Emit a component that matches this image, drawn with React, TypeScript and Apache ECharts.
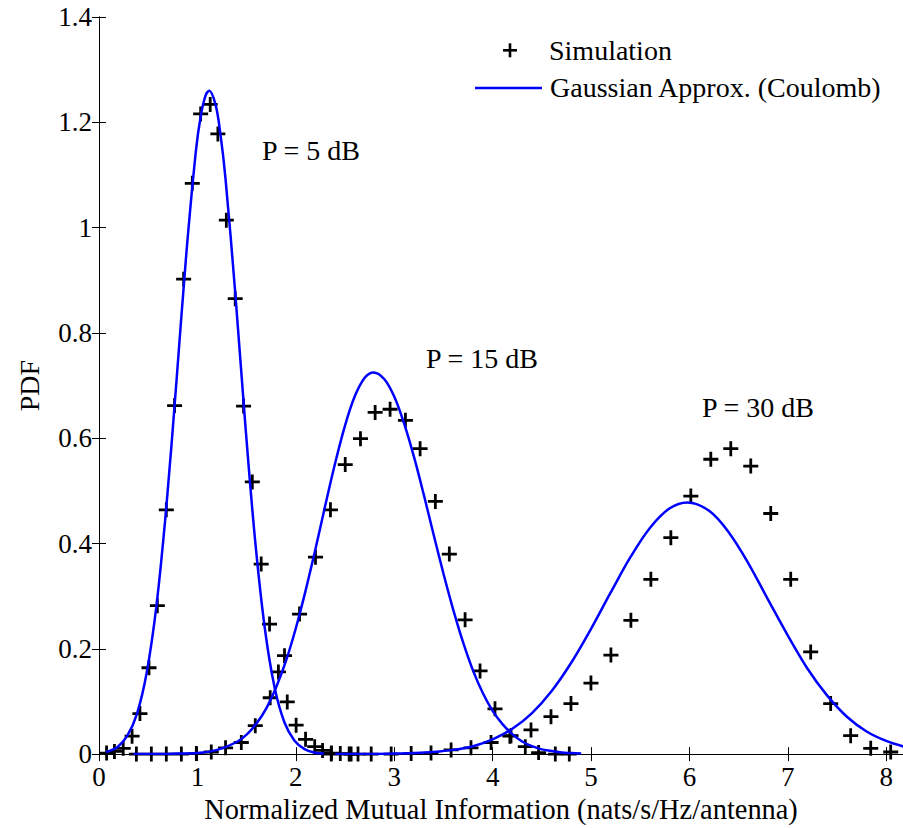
import React, { useEffect, useRef } from "react";
import * as echarts from "echarts";

// Simulation points
const sim5dB: [number, number][] = [
  [0.077, 0.002], [0.157, 0.005], [0.246, 0.011], [0.336, 0.034], [0.416, 0.077],
  [0.508, 0.164], [0.593, 0.282], [0.684, 0.464], [0.768, 0.662], [0.86, 0.902],
  [0.948, 1.084], [1.033, 1.216], [1.13, 1.234], [1.208, 1.178], [1.294, 1.014],
  [1.384, 0.865], [1.469, 0.661], [1.558, 0.517], [1.648, 0.361], [1.733, 0.247],
  [1.823, 0.156], [1.913, 0.099], [2.003, 0.055], [2.099, 0.028], [2.192, 0.014],
  [2.272, 0.007], [2.362, 0.002], [2.452, 0.001], [2.542, 0], [2.632, 0],
];
const sim15dB: [number, number][] = [
  [0.38, 0], [0.532, 0], [0.684, 0], [0.837, 0], [0.989, 0.001], [1.141, 0.004],
  [1.286, 0.012], [1.446, 0.022], [1.588, 0.054], [1.74, 0.107], [1.885, 0.187],
  [2.038, 0.266], [2.2, 0.374], [2.352, 0.464], [2.502, 0.55], [2.657, 0.599],
  [2.806, 0.649], [2.958, 0.655], [3.114, 0.634], [3.263, 0.58], [3.418, 0.48],
  [3.56, 0.38], [3.72, 0.255], [3.872, 0.158], [4.024, 0.086], [4.175, 0.034],
  [4.332, 0.014], [4.467, 0.003], [4.637, 0], [4.779, 0],
];
const sim30dB: [number, number][] = [
  [2.36, 0], [2.562, 0], [2.766, 0], [2.969, 0], [3.172, 0.001], [3.374, 0.002],
  [3.578, 0.008], [3.78, 0.012], [3.984, 0.022], [4.187, 0.035], [4.39, 0.046],
  [4.593, 0.071], [4.796, 0.096], [4.999, 0.135], [5.202, 0.188], [5.405, 0.254],
  [5.608, 0.332], [5.811, 0.411], [6.014, 0.49], [6.217, 0.56], [6.42, 0.58],
  [6.623, 0.547], [6.826, 0.457], [7.029, 0.332], [7.232, 0.194], [7.435, 0.096],
  [7.638, 0.035], [7.842, 0.011], [8.045, 0.004],
];

// Gaussian approximation curves
const gauss5dB: [number, number][] = [
  [0.07, 0.004], [0.185, 0.013], [0.285, 0.034], [0.385, 0.076], [0.485, 0.155],
  [0.585, 0.284], [0.685, 0.471], [0.785, 0.703], [0.885, 0.945], [0.985, 1.146],
  [1.035, 1.213], [1.085, 1.252], [1.12, 1.26], [1.185, 1.233], [1.235, 1.176],
  [1.285, 1.094], [1.385, 0.875], [1.485, 0.63], [1.585, 0.409], [1.685, 0.239],
  [1.785, 0.126], [1.885, 0.06], [1.985, 0.026], [2.085, 0.01], [2.185, 0.003],
  [2.285, 0.001],
];
const gauss15dB: [number, number][] = [
  [0.35, 0], [0.6, 0], [0.8, 0.001], [1.0, 0.002], [1.2, 0.008], [1.4, 0.023],
  [1.5, 0.037], [1.6, 0.058], [1.7, 0.087], [1.8, 0.127], [1.9, 0.177], [2.0, 0.239],
  [2.1, 0.311], [2.2, 0.39], [2.3, 0.473], [2.4, 0.553], [2.5, 0.624], [2.6, 0.68],
  [2.7, 0.715], [2.79, 0.725], [2.9, 0.712], [3.0, 0.679], [3.1, 0.628], [3.2, 0.565],
  [3.3, 0.493], [3.4, 0.417], [3.5, 0.343], [3.6, 0.274], [3.7, 0.212], [3.8, 0.159],
  [3.9, 0.116], [4.0, 0.082], [4.1, 0.057], [4.2, 0.038], [4.3, 0.024], [4.4, 0.015],
  [4.5, 0.009], [4.6, 0.006], [4.7, 0.003], [4.8, 0.002], [4.9, 0.001],
];
const gauss30dB: [number, number][] = [
  [2.4, 0], [2.6, 0], [3.0, 0.001], [3.2, 0.002], [3.4, 0.004], [3.6, 0.008],
  [3.8, 0.015], [4.0, 0.028], [4.2, 0.048], [4.4, 0.078], [4.6, 0.12], [4.8, 0.174],
  [5.0, 0.238], [5.2, 0.307], [5.4, 0.374], [5.6, 0.43], [5.8, 0.467], [5.98, 0.478],
  [6.2, 0.462], [6.4, 0.421], [6.6, 0.362], [6.8, 0.293], [7.0, 0.225], [7.2, 0.162],
  [7.4, 0.111], [7.6, 0.071], [7.8, 0.043], [8.0, 0.025], [8.2, 0.013],
];

const legendLabels = ["Simulation", "Gaussian Approx. (Coulomb)"];
const annotations = ["P = 5 dB", "P = 15 dB", "P = 30 dB"];
const xTitle = "Normalized Mutual Information (nats/s/Hz/antenna)";
const yTitle = "PDF";

const FONT = "Liberation Serif";
const PLUS =
  "path://M5.7,0 L8.3,0 L8.3,5.7 L14,5.7 L14,8.3 L8.3,8.3 L8.3,14 L5.7,14 L5.7,8.3 L0,8.3 L0,5.7 L5.7,5.7 Z";

export default function App() {
  const ref = useRef<HTMLDivElement>(null);
  useEffect(() => {
    document.body.style.margin = "0";
    if (!ref.current) return;
    const chart = echarts.init(ref.current, null, { renderer: "svg" });
    const axisCommon = {
      axisLine: { show: true, lineStyle: { color: "#000", width: 1 } },
      axisTick: { show: true, inside: true, length: 7, lineStyle: { color: "#000", width: 1 } },
      splitLine: { show: false },
    };
    const simSeries = (data: [number, number][]) => ({
      type: "scatter",
      data,
      symbol: PLUS,
      symbolSize: 15,
      itemStyle: { color: "#000", borderWidth: 0, opacity: 1 },
      z: 3,
      silent: true,
    });
    const lineSeries = (data: [number, number][]) => ({
      type: "line",
      data,
      showSymbol: false,
      smooth: 0.35,
      lineStyle: { color: "#0000ff", width: 2.5 },
      z: 4,
      silent: true,
    });
    const textEl = (text: string, x: number, y: number) => ({
      type: "text",
      x,
      y,
      style: {
        text,
        fill: "#000",
        fontSize: 28,
        fontFamily: FONT,
        verticalAlign: "middle",
      },
      z: 10,
    });
    chart.setOption({
      animation: false,
      backgroundColor: "#fff",
      textStyle: { fontFamily: FONT },
      grid: { left: 99, right: -1, top: 17, bottom: 66, containLabel: false },
      xAxis: [
        {
          type: "value",
          min: 0,
          max: 8.17,
          interval: 1,
          position: "bottom",
          ...axisCommon,
          axisLabel: {
            color: "#000",
            fontSize: 27,
            fontFamily: FONT,
            margin: 9,
            showMaxLabel: false,
          },
          name: xTitle,
          nameLocation: "middle",
          nameGap: 34,
          nameTextStyle: { color: "#000", fontSize: 28.4, fontFamily: FONT },
        },
        {
          type: "value",
          min: 0,
          max: 8.17,
          interval: 1,
          position: "top",
          ...axisCommon,
          axisLabel: { show: false },
        },
      ],
      yAxis: [
        {
          type: "value",
          min: 0,
          max: 1.4,
          interval: 0.2,
          position: "left",
          ...axisCommon,
          axisLabel: { color: "#000", fontSize: 27, fontFamily: FONT, margin: 7 },
          name: yTitle,
          nameLocation: "middle",
          nameGap: 56,
          nameRotate: 90,
          nameTextStyle: { color: "#000", fontSize: 28, fontFamily: FONT },
        },
        {
          type: "value",
          min: 0,
          max: 1.4,
          interval: 0.2,
          position: "right",
          ...axisCommon,
          axisLabel: { show: false },
        },
      ],
      series: [
        simSeries(sim5dB),
        simSeries(sim15dB),
        simSeries(sim30dB),
        lineSeries(gauss5dB),
        lineSeries(gauss15dB),
        lineSeries(gauss30dB),
      ],
      graphic: [
        {
          type: "rect",
          shape: { x: 503, y: 49, width: 14, height: 2.6 },
          style: { fill: "#000" },
          z: 10,
        },
        {
          type: "rect",
          shape: { x: 508.7, y: 43.3, width: 2.6, height: 14 },
          style: { fill: "#000" },
          z: 10,
        },
        textEl(legendLabels[0], 549, 50),
        {
          type: "line",
          shape: { x1: 475, y1: 88, x2: 542, y2: 88 },
          style: { stroke: "#0000ff", lineWidth: 2.5 },
          z: 10,
        },
        textEl(legendLabels[1], 550, 87),
        textEl(annotations[0], 262, 150),
        textEl(annotations[1], 426, 358),
        textEl(annotations[2], 702, 407),
      ],
    });
    return () => chart.dispose();
  }, []);
  return <div ref={ref} style={{ width: 903, height: 828 }} />;
}
